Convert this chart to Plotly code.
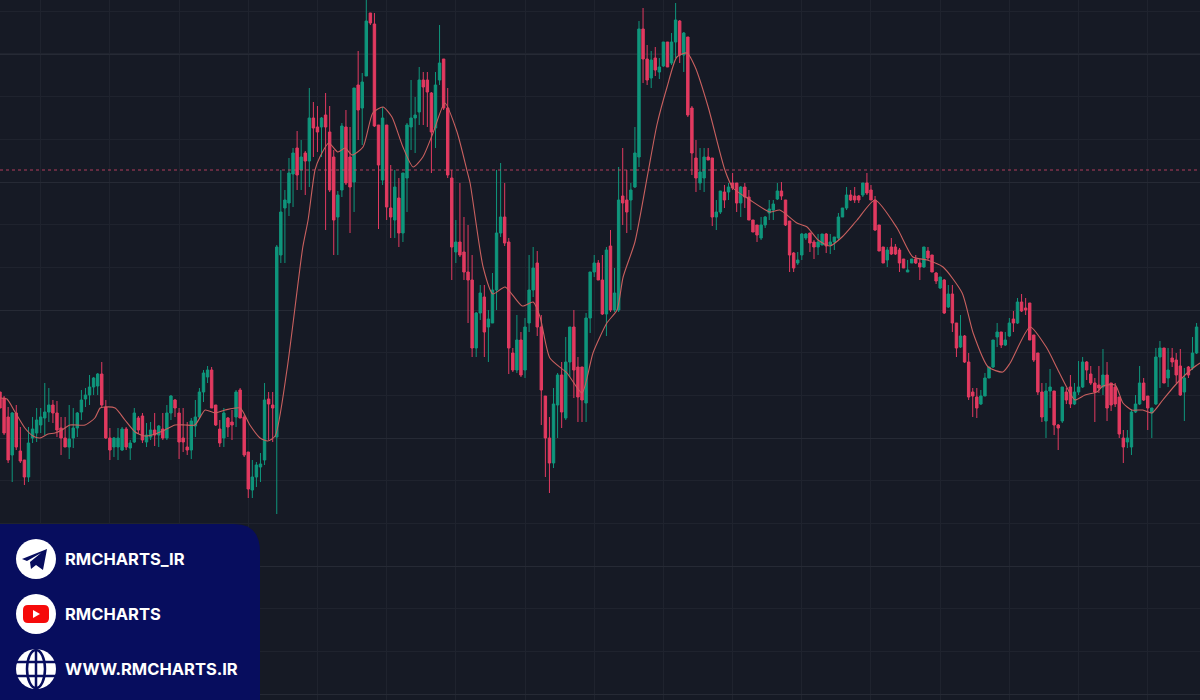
import plotly.graph_objects as go

W, H = 1200, 700

opens = [308,302,283,245,287,249,240,223,262,267,
275,282,288,295,287,272,262,253,262,272,
288,301,305,313,314,326,293,262,253,253,
250,271,252,258,282,284,258,263,270,265,
271,262,287,300,287,262,253,250,274,283,
308,323,330,295,271,262,282,278,283,310,
283,248,210,223,233,240,301,295,263,445,
492,497,526,552,530,547,539,582,573,573,
585,568,543,483,510,573,543,518,615,592,
624,687,676,575,520,575,492,480,502,467,
522,573,582,588,620,620,607,572,620,641,
592,522,448,458,448,428,420,352,387,403,
373,377,410,467,483,458,347,330,360,330,
377,410,437,373,304,262,237,295,325,282,
338,373,333,333,297,382,428,437,420,386,
454,390,390,504,500,500,513,543,671,641,
622,642,628,634,658,637,658,679,645,663,
592,542,517,522,543,542,483,488,508,508,
517,517,497,513,503,480,475,462,475,487,
490,501,509,500,479,447,437,445,462,467,
458,453,455,466,455,458,462,483,492,505,
504,504,505,517,510,500,475,453,440,453,
453,450,441,428,437,441,437,433,449,445,
427,412,420,393,406,377,353,364,338,308,
303,296,304,322,333,363,368,355,364,381,
377,398,392,397,365,347,308,279,309,309,
275,279,308,313,296,308,313,338,326,317,
315,313,325,317,313,303,262,258,253,288,
296,317,304,287,296,343,352,322,342,340,
334,308,333,332,347]

highs = [308,304,293,288,295,273,240,273,283,292,
292,317,312,300,299,283,283,295,292,288,
310,312,325,323,327,338,300,272,263,272,
273,273,260,292,284,287,277,278,287,275,
287,295,305,301,292,292,278,282,300,312,
330,334,333,295,280,292,283,290,310,312,
285,248,240,238,247,317,308,308,455,530,
510,542,552,569,560,549,612,598,594,583,
607,594,550,509,577,590,573,612,649,627,
702,687,687,575,593,575,535,530,522,527,
577,620,603,633,628,628,608,628,675,641,
612,530,480,517,483,475,445,388,415,415,
390,427,530,537,517,462,352,385,368,382,
445,453,449,385,304,283,312,327,338,363,
373,390,343,333,387,428,445,440,445,453,
470,432,533,552,530,517,573,679,692,655,
649,653,642,658,658,667,697,680,668,663,
594,560,552,552,552,542,500,509,515,517,
527,517,514,517,510,480,475,483,484,500,
500,517,518,500,479,448,448,467,467,467,
460,466,466,467,466,463,487,492,513,510,
513,505,517,527,515,504,475,453,453,462,
456,452,441,440,441,445,441,453,453,445,
428,423,421,415,415,377,385,365,347,312,
312,310,327,333,360,377,368,368,382,389,
402,406,402,397,365,347,317,317,331,309,
276,313,312,325,317,339,343,339,334,322,
334,351,338,317,317,303,270,270,290,305,
334,322,304,292,352,359,352,352,352,347,
351,332,334,363,377]

lows = [292,265,237,218,250,237,215,218,257,258,
267,265,278,277,263,245,253,241,252,263,
280,293,295,305,305,292,261,240,243,240,
249,250,240,257,266,257,253,260,254,253,
260,260,280,283,241,248,245,241,263,282,
298,317,292,274,253,253,263,260,273,282,
243,202,202,213,218,235,260,258,186,437,
437,484,493,510,510,505,513,543,548,543,
470,508,445,445,503,515,467,488,560,555,
624,675,573,471,515,480,462,462,453,458,
488,550,547,575,575,573,527,552,615,590,
522,420,437,443,420,377,343,343,380,343,
338,377,390,463,454,326,328,327,323,322,
368,403,364,275,223,207,232,262,272,280,
323,302,278,278,278,367,423,420,385,364,
388,388,388,475,467,470,512,533,617,615,
612,624,621,633,633,635,642,637,628,583,
525,508,510,508,540,474,470,486,492,500,
510,488,483,492,480,468,458,460,472,480,
480,500,500,474,428,428,435,440,460,448,
441,445,455,447,446,450,460,483,490,499,
497,497,503,505,500,469,449,437,433,445,
445,428,432,428,437,436,420,432,440,428,
416,411,386,392,368,343,352,337,300,283,
282,295,304,322,332,353,352,354,363,368,
376,388,385,360,338,305,278,262,292,265,
250,277,296,292,295,305,312,320,315,278,
307,305,279,289,293,262,237,252,245,287,
295,299,270,262,295,312,317,313,333,317,
304,279,322,330,346]

closes = [292,267,240,287,253,239,223,257,271,280,
283,288,295,287,270,262,253,261,272,287,
300,305,313,322,326,295,262,250,262,262,
271,253,257,287,270,260,265,270,265,274,
262,287,304,292,258,258,250,279,283,308,
327,330,292,275,257,287,273,275,308,282,
245,211,223,235,236,300,296,292,453,488,
500,527,547,525,543,539,582,572,568,582,
573,510,480,505,574,517,513,612,590,618,
679,677,574,535,582,493,483,513,467,527,
575,582,585,620,613,608,568,615,637,592,
525,453,458,445,428,420,352,387,407,368,
381,410,467,483,457,352,330,360,325,373,
410,432,373,310,262,237,296,325,288,338,
373,330,303,300,382,428,437,420,386,450,
390,407,500,497,488,510,547,671,641,620,
640,630,633,658,633,658,680,645,667,585,
547,522,528,543,540,483,488,509,500,513,
512,497,513,503,480,468,465,475,483,491,
496,509,504,475,445,432,440,466,466,457,
453,458,466,454,458,463,483,492,505,500,
500,500,517,507,500,470,449,437,450,446,
446,437,432,430,441,437,433,453,442,428,
419,423,387,406,377,352,364,338,303,304,
292,304,322,333,360,368,355,360,377,377,
398,389,390,360,340,308,283,309,313,275,
272,313,300,296,308,313,338,330,317,308,
312,325,292,295,296,266,253,262,288,296,
317,300,292,292,343,352,317,330,338,325,
305,322,325,347,373]

ma_index = [0,1.7,3.7,6.1,8.1,9.8,11.8,13.5,15.2,17.2,20.9,23.3,24.6,25.8,28.3,30.7,33.2,35.6,38.1,40.5,
43,45.5,47.9,50.4,52.8,55.3,59,61.4,63.9,65.8,67.6,70.5,74.4,75.7,77.4,78.6,80.8,83,84.8,86.5,
89.2,91.6,94.1,96.3,99,101.5,103.9,106.4,109.3,112.3,114.7,115.5,118.7,121.1,124.1,128.3,131,132.7,135.1,139.3,
143,145.7,149.1,151.6,153.1,156,159.2,161.4,163.9,166.3,168.8,170.8,174,178.1,180.1,184.3,189.2,191.6,195.8,198.3,
201,203.9,206.9,210.6,215,220.4,224.3,227.8,231.7,236.4,239.1,242.8,246.4,248.2,253.1,257.2,259.7,262.2,264.1,266.6,
269.5,271,274,275.9,278.1,280.8,283,285.7,289.2,293.1,294.84]
ma_values = [302,301,288,272,264,262,266,267,270,275,275,282,292,293,292,280,268,264,266,270,
275,275,275,290,287,290,292,275,262,259,264,330,453,480,530,543,557,548,552,545,
553,587,593,583,553,533,543,567,597,568,530,517,433,406,413,394,398,383,342,327,
307,347,377,390,423,458,527,575,613,643,647,633,593,530,512,500,488,490,477,473,
460,454,463,480,500,472,443,440,433,407,367,333,328,337,373,352,332,312,300,305,
308,314,315,297,290,290,287,300,317,332,337]

resistance_level = 530
ticks_x_start, ticks_x_step = 10, 17
ticks_y_start, ticks_y_major, ticks_y_minor = 518, 128, 42.67

BG = "#161a25"
UP = "#0f967c"
DOWN = "#e23a60"
GRID = "#1f232e"
GRID_MAJOR = "#262a35"
NAVY = "#070d5e"

index = list(range(len(opens)))


def px(x):
    return x / W


def py(y):
    return 1 - y / H


def path(points, close=True):
    s = "M " + " L ".join(f"{px(x):.5f} {py(y):.5f}" for x, y in points)
    return s + (" Z" if close else "")


def rounded_path(x0, y0, x1, y1, r):
    return (
        f"M {px(x0):.5f} {py(y0 + r):.5f} "
        f"Q {px(x0):.5f} {py(y0):.5f} {px(x0 + r):.5f} {py(y0):.5f} "
        f"L {px(x1 - r):.5f} {py(y0):.5f} "
        f"Q {px(x1):.5f} {py(y0):.5f} {px(x1):.5f} {py(y0 + r):.5f} "
        f"L {px(x1):.5f} {py(y1 - r):.5f} "
        f"Q {px(x1):.5f} {py(y1):.5f} {px(x1 - r):.5f} {py(y1):.5f} "
        f"L {px(x0 + r):.5f} {py(y1):.5f} "
        f"Q {px(x0):.5f} {py(y1):.5f} {px(x0):.5f} {py(y1 - r):.5f} Z"
    )


def circle(cx, cy, r, fill="white", line=None, lw=0):
    return dict(type="circle", xref="paper", yref="paper", layer="above",
                x0=px(cx - r), x1=px(cx + r), y0=py(cy + r), y1=py(cy - r),
                fillcolor=fill, line=dict(color=line or fill, width=lw))


def poly(d, fill, line=None, lw=0):
    return dict(type="path", xref="paper", yref="paper", layer="above", path=d,
                fillcolor=fill, line=dict(color=line or fill, width=lw))


shapes = [
    poly(f"M 0 {py(700)} L 0 {py(524)} L {px(234)} {py(524)} "
         f"Q {px(260)} {py(524)} {px(260)} {py(552)} L {px(260)} {py(700)} Z", NAVY),
    circle(36, 559, 20),
    poly(path([(22, 559), (47, 549), (43, 570), (36, 565), (31, 569), (30, 562), (41, 553), (27, 561)]), NAVY),
    circle(36, 614, 20),
    poly(rounded_path(23, 605, 49, 623, 5), "#f60a0a"),
    poly(path([(33, 610), (33, 618), (40, 614)]), "white"),
    circle(36, 669, 20),
    dict(type="circle", xref="paper", yref="paper", layer="above",
         x0=px(27), x1=px(45), y0=py(688), y1=py(650),
         fillcolor="rgba(0,0,0,0)", line=dict(color=NAVY, width=2.5)),
    poly(path([(16, 662), (56, 662)], close=False), "rgba(0,0,0,0)", NAVY, 2.5),
    poly(path([(16, 676), (56, 676)], close=False), "rgba(0,0,0,0)", NAVY, 2.5),
    poly(path([(36, 650), (36, 688)], close=False), "rgba(0,0,0,0)", NAVY, 2.5),
    dict(type="line", xref="paper", yref="y", layer="above", x0=0, x1=1,
         y0=resistance_level, y1=resistance_level,
         line=dict(color="#d8476a", width=0.8, dash="dot")),
]

annotations = [
    dict(text=t, x=px(63), y=py(y), xref="paper", yref="paper", xanchor="left", yanchor="middle",
         showarrow=False, font=dict(family="Inter", size=16.5, color="white", weight=700))
    for t, y in [("RMCHARTS_IR", 559), ("RMCHARTS", 614), ("WWW.RMCHARTS.IR", 669)]
]

fig = go.Figure()
fig.add_trace(go.Candlestick(
    x=index, open=opens, high=highs, low=lows, close=closes,
    increasing=dict(line=dict(color=UP, width=1), fillcolor=UP),
    decreasing=dict(line=dict(color=DOWN, width=1), fillcolor=DOWN),
    whiskerwidth=0, showlegend=False, hoverinfo="skip",
))
fig.add_trace(go.Scatter(
    x=ma_index, y=ma_values, mode="lines", showlegend=False, hoverinfo="skip",
    line=dict(color="#c9605f", width=1.1, shape="spline", smoothing=0.6),
))

fig.update_layout(
    width=W, height=H, margin=dict(l=0, r=0, t=0, b=0),
    paper_bgcolor=BG, plot_bgcolor=BG, showlegend=False, boxgap=0.15,
    shapes=shapes, annotations=annotations,
    xaxis=dict(range=[0, 294.84], rangeslider=dict(visible=False), showticklabels=False,
               zeroline=False, showline=False, showgrid=True, gridcolor=GRID, gridwidth=1,
               tick0=ticks_x_start, dtick=ticks_x_step, ticks=""),
    yaxis=dict(range=[0, 700], showticklabels=False, zeroline=False, showline=False,
               showgrid=True, gridcolor=GRID_MAJOR, gridwidth=1,
               tick0=ticks_y_start, dtick=ticks_y_major, ticks="",
               minor=dict(showgrid=True, gridcolor=GRID, gridwidth=1,
                          tick0=ticks_y_start, dtick=ticks_y_minor)),
)

fig.write_html("out.html", config=dict(displayModeBar=False),
               post_script="document.body.style.margin='0';document.body.style.overflow='hidden';")
